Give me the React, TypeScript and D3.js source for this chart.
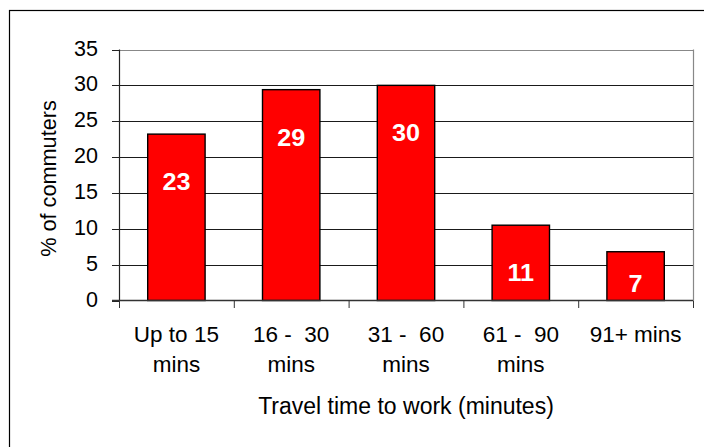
import React from "react";
import * as d3 from "d3";

const categories = ["Up to 15 mins", "16 - 30 mins", "31 - 60 mins", "61 - 90 mins", "91+ mins"];
const categoryLines = [["Up to 15", "mins"], ["16 -  30", "mins"], ["31 -  60", "mins"], ["61 -  90", "mins"], ["91+ mins"]];
const values = [23.2, 29.4, 30.0, 10.5, 6.8];
const yTicks = [0, 5, 10, 15, 20, 25, 30, 35];
const yTitle = "% of commuters";
const xTitle = "Travel time to work (minutes)";

const W = 704, H = 447;
const L = 119, R = 693, T = 49.5, B = 300.5;
const FONT = "'Liberation Sans', Arial, Helvetica, sans-serif";

export default function App() {
  const x = d3.scaleBand<string>().domain(categories).range([L, R]).paddingInner(0.5).paddingOuter(0.25);
  const y = d3.scaleLinear().domain([0, 35]).range([B, T]);
  const step = x.step();
  const boundaries = d3.range(categories.length + 1).map((i) => L + i * step);

  return (
    <svg width={W} height={H} style={{ position: "absolute", left: 0, top: 0, background: "#fff" }}>
      <rect x={0} y={0} width={W} height={H} fill="#fff" />
      <rect x={9.5} y={10.5} width={900} height={900} fill="none" stroke="#000" strokeWidth={1.2} />
      {/* gridlines */}
      {yTicks.filter((t) => t > 0).map((t) => (
        <line key={"g" + t} x1={L} x2={R} y1={Math.round(y(t)) + 0.5} y2={Math.round(y(t)) + 0.5}
          stroke={t === 35 ? "#888" : "#1a1a1a"} strokeWidth={1} />
      ))}
      {/* right border of plot */}
      <line x1={R + 0.5} x2={R + 0.5} y1={T} y2={B} stroke="#888" strokeWidth={1.2} />
      {/* bars */}
      {values.map((v, i) => (
        <rect key={"b" + i} x={x(categories[i])} y={y(v)} width={x.bandwidth()} height={B - y(v)}
          fill="#ff0000" stroke="#000" strokeWidth={1.4} />
      ))}
      {/* value labels */}
      {values.map((v, i) => {
        const cx = (x(categories[i]) as number) + x.bandwidth() / 2;
        const by = Math.min(y(v) + 56, B - 9);
        return (
          <text key={"v" + i} transform={`translate(${cx},${by}) scale(1.05,1)`} textAnchor="middle"
            fill="#fff" fontWeight="bold" fontSize={24} fontFamily={FONT}>{Math.round(v)}</text>
        );
      })}
      {/* y axis */}
      <line x1={L + 0.5} x2={L + 0.5} y1={T} y2={B} stroke="#222" strokeWidth={1.2} />
      {yTicks.map((t) => (
        <g key={"yt" + t}>
          <line x1={112} x2={L} y1={Math.round(y(t)) + 0.5} y2={Math.round(y(t)) + 0.5} stroke="#222" strokeWidth={1} />
          <text x={98} y={y(t) + 6} textAnchor="end"
            fontSize={21.5} fontFamily={FONT} fill="#000">{t}</text>
        </g>
      ))}
      {/* x axis */}
      <line x1={112} x2={R} y1={B} y2={B} stroke="#333" strokeWidth={1.4} />
      {boundaries.map((bx, i) => (
        <line key={"xt" + i} x1={bx + 0.5} x2={bx + 0.5} y1={B} y2={308} stroke="#333" strokeWidth={1} />
      ))}
      {categoryLines.map((lines, i) => {
        const cx = (x(categories[i]) as number) + x.bandwidth() / 2;
        return lines.map((ln, j) => (
          <text key={"xl" + i + j} x={cx} y={341.5 + j * 30} textAnchor="middle"
            fontSize={22.5} fontFamily={FONT} fill="#000" style={{ whiteSpace: "pre" }}>{ln}</text>
        ));
      })}
      {/* titles */}
      <text x={(L + R) / 2} y={413.5} textAnchor="middle"
        fontSize={23} fontFamily={FONT} fill="#000">{xTitle}</text>
      <text transform={`translate(56,178.5) rotate(-90)`} textAnchor="middle"
        fontSize={21.7} fontFamily={FONT} fill="#000">{yTitle}</text>
    </svg>
  );
}
